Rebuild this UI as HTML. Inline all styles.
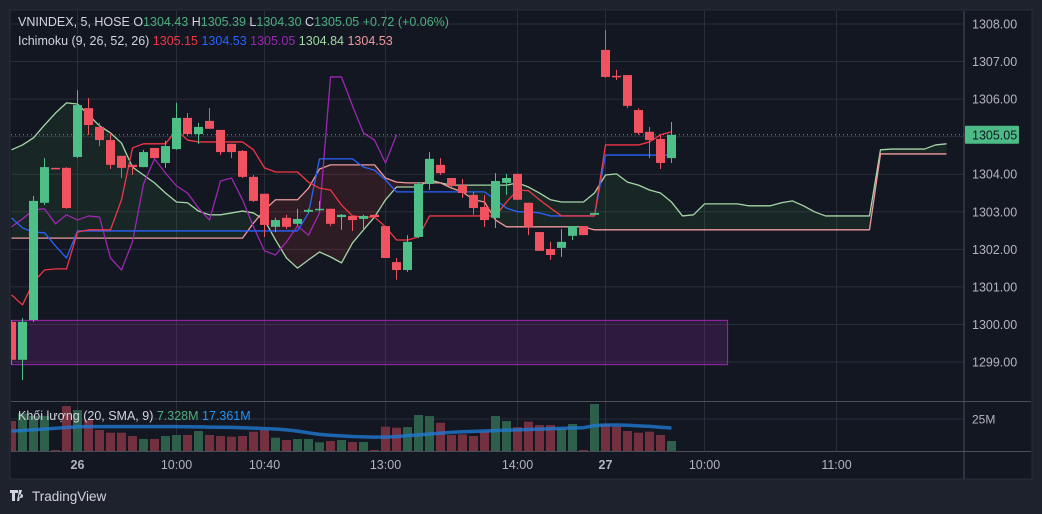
<!DOCTYPE html>
<html><head><meta charset="utf-8">
<style>
html,body{margin:0;padding:0;background:#1e222d;width:1042px;height:514px;overflow:hidden}
svg{display:block;font-family:"Liberation Sans","Noto Sans CJK SC",sans-serif}
</style></head>
<body>
<svg id="chart" width="1042" height="514" viewBox="0 0 1042 514" xmlns="http://www.w3.org/2000/svg">
<rect x="0" y="0" width="1042" height="514" fill="#1e222d"/>
<rect x="10" y="10" width="1022" height="469" fill="#131722" stroke="#2a2e39" stroke-width="1"/>
<defs><clipPath id="plotClip"><rect x="11" y="11" width="953" height="390"/></clipPath>
<clipPath id="volClip"><rect x="11" y="402" width="953" height="49"/></clipPath></defs>
<g id="grid"></g>
<g id="plot" clip-path="url(#plotClip)"></g>
<g id="vol" clip-path="url(#volClip)"></g>
<g id="axes"></g>
<g font-size="12.5">
<text x="18" y="26" fill="#d1d4dc">VNINDEX, 5, HOSE <tspan fill="#d1d4dc">O</tspan><tspan fill="#4caf7f">1304.43</tspan> <tspan fill="#d1d4dc"> H</tspan><tspan fill="#4caf7f">1305.39</tspan> <tspan fill="#d1d4dc"> L</tspan><tspan fill="#4caf7f">1304.30</tspan> <tspan fill="#d1d4dc"> C</tspan><tspan fill="#4caf7f">1305.05</tspan> <tspan fill="#4caf7f"> +0.72 (+0.06%)</tspan></text>
<text x="18" y="45" fill="#d1d4dc">Ichimoku (9, 26, 52, 26) <tspan fill="#f23645"> 1305.15</tspan><tspan fill="#2962ff">  1304.53</tspan><tspan fill="#9c27b0">  1305.05</tspan><tspan fill="#a5d6a7">  1304.84</tspan><tspan fill="#ef9a9a">  1304.53</tspan></text>
<text x="18" y="420" fill="#d1d4dc">Khối lượng (20, SMA, 9) <tspan fill="#4caf7f"> 7.328M</tspan><tspan fill="#2196f3">  17.361M</tspan></text>
</g>
<g>
<path d="M10 490h8v3h-3v8h-3v-8h-2z M19 490h3l-3 11h-2z M21 494a2 2 0 1 0 0.1 0z" fill="#d1d4dc"/>
<text x="32" y="501" fill="#d1d4dc" font-size="13.5">TradingView</text>
</g>
</svg>
<script>
// ---------- data ----------
const opens  = [1300.07,1299.06,1300.12,1303.24,1304.17,1304.17,1304.46,1305.76,1305.26,1304.91,1304.49,1304.25,1304.19,1304.70,1304.30,1304.67,1305.50,1305.07,1305.42,1305.18,1304.81,1304.62,1303.93,1303.48,1302.60,1302.84,1302.68,1303.00,1303.05,1303.08,1302.86,1302.89,1302.81,1302.92,1302.62,1301.66,1301.45,1302.33,1303.74,1304.25,1303.90,1303.71,1303.45,1303.13,1302.84,1303.77,1304.01,1303.24,1302.46,1302.01,1302.04,1302.36,1302.62,1302.92,1307.31,1306.62,1306.64,1305.71,1305.13,1304.94,1304.43];
const highs  = [1300.12,1300.17,1303.42,1304.43,1304.17,1304.19,1306.24,1306.03,1305.37,1305.10,1304.49,1304.25,1304.65,1304.70,1304.89,1305.90,1305.63,1305.37,1305.76,1305.18,1304.81,1304.65,1303.98,1303.48,1302.84,1302.92,1303.08,1303.08,1303.29,1303.08,1302.94,1302.89,1302.92,1302.92,1302.62,1301.77,1302.38,1303.79,1304.59,1304.43,1303.90,1303.87,1303.53,1303.45,1304.03,1304.01,1304.01,1303.24,1302.46,1302.20,1302.54,1302.62,1302.62,1302.97,1307.84,1306.78,1306.64,1305.76,1305.26,1305.05,1305.39];
const lows   = [1298.92,1298.52,1300.07,1303.18,1304.14,1303.08,1304.43,1305.05,1304.75,1304.14,1303.90,1303.98,1304.19,1304.43,1304.17,1304.65,1305.02,1304.81,1305.21,1304.51,1304.43,1303.90,1303.26,1302.33,1302.46,1302.54,1302.62,1302.97,1303.02,1302.62,1302.52,1302.49,1302.52,1302.86,1301.77,1301.19,1301.40,1302.30,1303.58,1303.98,1303.63,1303.37,1302.92,1302.60,1302.57,1303.45,1303.32,1302.38,1301.96,1301.72,1301.80,1302.25,1302.38,1302.92,1306.57,1306.51,1305.76,1305.05,1304.43,1304.14,1304.30];
const closes = [1299.06,1300.07,1303.29,1304.19,1304.14,1303.10,1305.84,1305.31,1304.91,1304.25,1304.17,1304.19,1304.59,1304.43,1304.75,1305.50,1305.07,1305.26,1305.21,1304.59,1304.59,1303.93,1303.29,1302.65,1302.78,1302.60,1302.81,1303.05,1303.08,1302.68,1302.92,1302.78,1302.89,1302.86,1301.77,1301.45,1302.20,1303.74,1304.41,1304.03,1303.69,1303.50,1303.10,1302.78,1303.82,1303.90,1303.32,1302.60,1301.96,1301.85,1302.20,1302.62,1302.38,1302.97,1306.59,1306.59,1305.82,1305.10,1304.91,1304.30,1305.05];
const volumes = [23.4,29.4,27.5,27.5,0.8,35.1,32.0,24.2,16.4,14.3,14.3,11.7,9.4,9.4,11.7,12.5,12.5,15.6,12.5,11.7,11.2,11.7,15.1,16.4,10.4,8.6,9.4,9.4,6.8,7.8,8.6,7.0,7.0,0.8,19.0,18.2,18.7,28.1,27.3,22.1,12.5,13.0,11.7,15.1,27.3,23.4,18.7,22.9,20.3,20.3,17.7,21.1,0.8,36.7,21.1,19.0,15.6,14.3,15.1,12.5,7.8];
const volSma = [15.6,16.0,16.6,17.2,17.8,18.4,18.9,19.0,19.0,19.0,19.0,19.0,19.0,19.0,19.0,19.0,18.9,18.8,18.7,18.6,18.5,18.2,17.9,17.5,17.2,16.5,15.5,14.2,13.0,12.3,11.8,11.3,11.0,10.8,10.8,11.2,12.0,12.6,13.3,14.0,14.6,15.0,15.3,15.6,15.9,16.3,16.5,16.8,17.1,17.4,17.7,18.0,18.2,19.8,20.3,20.3,20.1,19.6,19.2,18.6,18.0];
const tenkan = [1300.79,1300.52,1301.13,1301.45,1301.48,1301.48,1302.46,1302.52,1302.52,1302.52,1303.32,1304.70,1304.81,1304.81,1304.81,1305.18,1304.91,1304.86,1304.86,1304.86,1304.86,1304.86,1304.65,1304.17,1304.06,1304.06,1304.06,1303.79,1303.63,1303.58,1303.18,1302.89,1302.86,1302.86,1302.60,1302.25,1302.25,1302.33,1302.89,1302.89,1302.89,1302.89,1302.89,1302.89,1302.89,1303.26,1303.58,1303.56,1303.32,1303.10,1302.89,1302.89,1302.89,1302.89,1304.78,1304.78,1304.78,1304.78,1304.86,1305.05,1305.13];
const kijun = [1302.84,1302.57,1302.46,1302.44,1302.09,1301.77,1302.49,1302.49,1302.49,1302.49,1302.49,1302.49,1302.49,1302.49,1302.49,1302.49,1302.49,1302.49,1302.49,1302.49,1302.49,1302.49,1302.49,1302.49,1302.49,1302.49,1302.49,1302.97,1304.41,1304.41,1304.41,1304.41,1304.19,1304.11,1303.85,1303.53,1303.53,1303.53,1303.53,1303.53,1303.53,1303.53,1303.53,1303.53,1303.32,1303.10,1303.00,1303.00,1302.97,1302.89,1302.89,1302.89,1302.89,1302.89,1304.51,1304.51,1304.51,1304.51,1304.51,1304.51,1304.51];
const senkouA = [1304.65,1304.78,1304.97,1305.31,1305.63,1305.90,1305.87,1305.58,1305.29,1305.10,1304.83,1304.19,1303.98,1303.77,1303.50,1303.26,1303.24,1303.02,1302.92,1302.92,1302.97,1303.02,1302.97,1302.78,1302.25,1301.77,1301.50,1301.72,1301.93,1301.80,1301.64,1302.17,1302.52,1302.86,1303.32,1303.66,1303.66,1303.66,1303.85,1303.77,1303.71,1303.71,1303.71,1303.71,1303.71,1303.71,1303.77,1303.66,1303.50,1303.32,1303.26,1303.26,1303.26,1303.50,1303.98,1304.01,1303.79,1303.71,1303.58,1303.50,1303.26,1302.89,1302.92,1303.21,1303.21,1303.21,1303.21,1303.16,1303.16,1303.16,1303.24,1303.29,1303.16,1303.00,1302.89,1302.89,1302.89,1302.89,1302.89,1304.65,1304.67,1304.67,1304.67,1304.67,1304.78,1304.81];
const senkouB = [1302.30,1302.30,1302.30,1302.30,1302.30,1302.30,1302.30,1302.30,1302.30,1302.30,1302.30,1302.30,1302.30,1302.30,1302.30,1302.30,1302.30,1302.30,1302.30,1302.30,1302.30,1302.30,1302.70,1303.05,1303.32,1303.32,1303.32,1303.63,1304.14,1304.25,1304.25,1304.25,1304.25,1304.25,1303.90,1303.79,1303.77,1303.77,1303.77,1303.77,1303.63,1303.53,1303.32,1303.26,1302.78,1302.60,1302.60,1302.60,1302.60,1302.60,1302.60,1302.60,1302.60,1302.52,1302.52,1302.52,1302.52,1302.52,1302.52,1302.52,1302.52,1302.52,1302.52,1302.52,1302.52,1302.52,1302.52,1302.52,1302.52,1302.52,1302.52,1302.52,1302.52,1302.52,1302.52,1302.52,1302.52,1302.52,1302.52,1304.54,1304.54,1304.54,1304.54,1304.54,1304.54,1304.54];
const chikouShift = 25;
const priceTicks = [1308,1307,1306,1305,1304,1303,1302,1301,1300,1299];
const priceTickLabels = ["1308.00","1307.00","1306.00","1305.00","1304.00","1303.00","1302.00","1301.00","1300.00","1299.00"];
const timeTickIndex = [6,15,23,34,46,54,63,75];
const timeTickLabels = ["26","10:00","10:40","13:00","14:00","27","10:00","11:00"];
const lastPrice = 1305.05;
const zoneTop = 1300.11, zoneBottom = 1298.93, zoneEndIndex = 65.1;
const volTickValue = 25, volTickLabel = "25M";

// ---------- scales ----------
const NS = "http://www.w3.org/2000/svg";
const xOf = i => 11.5 + 11 * i;
const yOf = p => 24 + (1308 - p) * 37.56;
const vY = v => 451 - v * 32 / 25;
function mk(tag, attrs, parent){const e=document.createElementNS(NS,tag);for(const k in attrs)e.setAttribute(k,attrs[k]);parent.appendChild(e);return e;}
const grid=document.getElementById('grid'), plot=document.getElementById('plot'), vol=document.getElementById('vol'), axes=document.getElementById('axes');

// grid
priceTicks.forEach((p,i)=>{
  const l=mk('line',{x1:11,x2:964,y1:yOf(p),y2:yOf(p),stroke:'#2a2e39','stroke-width':1},grid);
  
  
  const t=mk('text',{x:972,y:yOf(p)+4.5,fill:'#b2b5be','font-size':12.5},axes);
  t.textContent=priceTickLabels[i];
  
  
});
timeTickIndex.forEach((ix,i)=>{
  const l=mk('line',{x1:xOf(ix),x2:xOf(ix),y1:11,y2:451,stroke:'#2a2e39','stroke-width':1},grid);
  
  
  const t=mk('text',{x:xOf(ix),y:469,fill:'#b2b5be','font-size':12.5,'text-anchor':'middle','font-weight':(timeTickLabels[i].length<3?'bold':'normal')},axes);
  t.textContent=timeTickLabels[i];
  
  
});
const vg=mk('line',{x1:11,x2:964,y1:vY(volTickValue),y2:vY(volTickValue),stroke:'#2a2e39'},grid);


const vt=mk('text',{x:972,y:vY(volTickValue)+4.5,fill:'#b2b5be','font-size':12},axes);
vt.textContent=volTickLabel;


// separators
[[964,11,964,479],[11,401.5,1031,401.5],[11,451.5,1031,451.5]].forEach(s=>{
  const l=mk('line',{x1:s[0],y1:s[1],x2:s[2],y2:s[3],stroke:'#4a4e59','stroke-width':1},axes);
  
  
});

// zone rectangle
const zr=mk('rect',{x:11,y:yOf(zoneTop),width:xOf(zoneEndIndex)-11,height:yOf(zoneBottom)-yOf(zoneTop),fill:'rgba(156,39,176,0.2)',stroke:'#9c27b0','stroke-width':1},plot);



// cloud
for(let i=0;i<senkouA.length-1;i++){
  const a0=senkouA[i],a1=senkouA[i+1],b0=senkouB[i],b1=senkouB[i+1];
  const up=(a0+a1)>=(b0+b1);
  const pg=mk('polygon',{points:`${xOf(i)},${yOf(a0)} ${xOf(i+1)},${yOf(a1)} ${xOf(i+1)},${yOf(b1)} ${xOf(i)},${yOf(b0)}`,fill:up?'rgba(67,160,71,0.12)':'rgba(244,67,54,0.12)'},plot);
  
  
}
function line(vals,offset,color,name,w){
  const pts=vals.map((v,i)=>`${xOf(i+offset)},${yOf(v)}`).join(' ');
  const pl=mk('polyline',{points:pts,fill:'none',stroke:color,'stroke-width':w||1.3,'stroke-linejoin':'round'},plot);
  
  
}
line(senkouA,0,'#a5d6a7','senkou-span-a');
line(senkouB,0,'#ef9a9a','senkou-span-b');
line(closes.slice(chikouShift),0,'#9c27b0','chikou-span');
line(kijun,0,'#2962ff','kijun-sen');
line(tenkan,0,'#f23645','tenkan-sen');

// last price line
const lp=mk('line',{x1:11,x2:964,y1:yOf(lastPrice),y2:yOf(lastPrice),stroke:'#4caf7f','stroke-width':1,'stroke-dasharray':'1 3'},plot);


const lb=mk('rect',{x:965,y:yOf(lastPrice)-9,width:54,height:18,fill:'#4dbb85',rx:1},axes);


const lt=mk('text',{x:972,y:yOf(lastPrice)+4.5,fill:'#131722','font-size':12.5},axes);
lt.textContent=lastPrice.toFixed(2);



// candles
closes.forEach((c,i)=>{
  const o=opens[i],up=c>=o,col=up?'#4fbf88':'#f0525f',x=xOf(i);
  const w=mk('line',{x1:x,x2:x,y1:yOf(highs[i]),y2:yOf(lows[i]),stroke:col,'stroke-width':1},plot);
  
  
  const top=yOf(Math.max(o,c)),bot=yOf(Math.min(o,c));
  const b=mk('rect',{x:x-4.5,y:top,width:9,height:Math.max(1.5,bot-top),fill:col},plot);
  
  
  const v=mk('rect',{x:x-4.5,y:vY(volumes[i]),width:9,height:451-vY(volumes[i]),fill:up?'#2d5f4b':'#73303e'},vol);
  
  
});
const sm=mk('polyline',{points:volSma.map((v,i)=>`${xOf(i)},${vY(v)}`).join(' '),fill:'none',stroke:'rgba(33,120,210,0.8)','stroke-width':3.5,'stroke-linejoin':'round'},vol);


</script>
</body></html>
